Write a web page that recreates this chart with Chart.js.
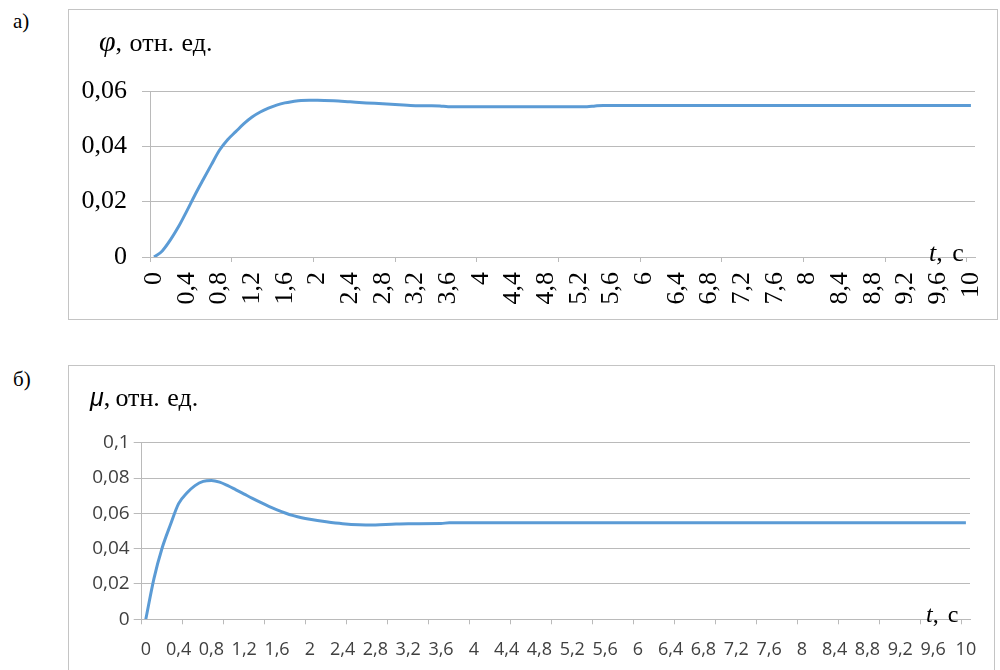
<!DOCTYPE html>
<html><head><meta charset="utf-8">
<script src="https://cdn.jsdelivr.net/npm/chart.js@4.4.1/dist/chart.umd.min.js"></script>
<style>
html,body{margin:0;padding:0;background:#fff;}
body{width:1000px;height:670px;position:relative;overflow:hidden;}
.box{position:absolute;border:1px solid #c4c4c4;box-sizing:border-box;}
.lbl{position:absolute;white-space:nowrap;line-height:1;color:#000;font-family:"Liberation Serif","Times New Roman",serif;}
canvas{position:absolute;left:0;}
</style></head><body>
<div class="lbl" style="left:13px;top:11px;font-size:21px">а)</div>
<div class="box" style="left:68px;top:9px;width:930px;height:311px"></div>
<div class="lbl" style="left:13px;top:369px;font-size:21px">б)</div>
<div class="box" style="left:68px;top:365px;width:927px;height:330px"></div>
<canvas id="c1" width="1000" height="330" style="top:0"></canvas>
<canvas id="c2" width="1000" height="330" style="top:340px"></canvas>
<div class="lbl" style="left:99px;top:26px;font-size:26px;word-spacing:1px"><i style="font-size:30px">φ</i>, отн. ед.</div>
<div class="lbl" style="left:90px;top:385px;font-size:26px;word-spacing:1px"><i style="font-family:'Liberation Sans',sans-serif;font-size:25px">μ</i>,&#8201;отн. ед.</div>
<div class="lbl" style="left:929px;top:240px;font-size:26px;word-spacing:3px"><i>t</i>, с</div>
<div class="lbl" style="left:926px;top:602px;font-size:24px;word-spacing:3px"><i>t</i>, с</div>
<script>
// ---- data ----
const tPhi = [0,0.1,0.2,0.3,0.4,0.5,0.6,0.7,0.8,0.9,1.0,1.1,1.2,1.3,1.4,1.5,1.6,1.7,1.8,1.9,2.0,
              2.2,2.4,2.6,2.8,3.0,3.2,3.4,3.5,3.6,4.0,4.5,5.0,5.3,5.4,5.5,6,7,8,9,10];
const phi  = [0,0.0022,0.0062,0.0110,0.0166,0.0224,0.0279,0.0333,0.0386,0.0424,0.0453,0.0482,0.0506,0.0524,0.0538,0.0549,0.0557,0.0562,0.0566,0.0567,0.0567,
              0.0565,0.0561,0.0557,0.0554,0.0550,0.0547,0.0547,0.0546,0.0543,0.0543,0.0543,0.0543,0.0543,0.0546,0.0548,0.0548,0.0548,0.0548,0.0548,0.0548];
const tMu = [0,0.1,0.2,0.3,0.4,0.5,0.6,0.7,0.8,0.9,1.0,1.1,1.2,1.3,1.4,1.5,1.6,1.7,1.8,1.9,2.0,
             2.2,2.4,2.6,2.8,3.0,3.2,3.6,3.7,4,5,6,7,8,9,10];
const mu  = [0,0.0232,0.0405,0.0535,0.0655,0.0715,0.0757,0.0781,0.0786,0.0777,0.0757,0.0733,0.0709,0.0685,0.0662,0.0640,0.0620,0.0602,0.0587,0.0575,0.0566,
             0.0552,0.0541,0.0535,0.0534,0.0538,0.0541,0.0542,0.0547,0.0547,0.0547,0.0547,0.0547,0.0547,0.0547,0.0547];
const xTickLabels = ['0','0,4','0,8','1,2','1,6','2','2,4','2,8','3,2','3,6','4','4,4','4,8','5,2','5,6','6',
                     '6,4','6,8','7,2','7,6','8','8,4','8,8','9,2','9,6','10'];
const xMarksTop = [-0.05,0.95,1.95,2.95,3.95,4.95,5.95,6.95,7.95,8.95,9.95];
const xMarksBottom = [-0.05,0.45,0.95,1.45,1.95,2.45,2.95,3.45,3.95,4.45,4.95,5.45,5.95,6.45,6.95,7.45,7.95,8.45,8.95,9.45,9.95];
const yTickLabelsTop = ['0','0,02','0,04','0,06'];
const yTickLabelsBottom = ['0','0,02','0,04','0,06','0,08','0,1'];

const GRID = '#bababa';
const LINE = '#5B9BD5';
const SERIF = "'Liberation Serif', 'Times New Roman', serif";
const SANS = "'Open Sans', 'Liberation Sans', sans-serif";

function makeChart(id, o) {
  new Chart(document.getElementById(id), {
    type: 'line',
    data: { datasets: [{
      data: o.t.map((t, i) => ({x: t, y: o.v[i]})),
      borderColor: LINE, borderWidth: 3, pointRadius: 0, fill: false,
      cubicInterpolationMode: 'monotone'
    }]},
    options: {
      responsive: false, animation: false, events: [],
      layout: { padding: { left: 0, right: o.padRight, top: o.padTop, bottom: 0 } },
      plugins: { legend: { display: false }, tooltip: { enabled: false } },
      scales: {
        x: {
          type: 'linear', min: -0.05, max: 10.05,
          afterBuildTicks: s => {
            const ticks = [];
            xTickLabels.forEach(l => ticks.push({value: parseFloat(l.replace(',', '.')), lab: l, mark: false}));
            o.marks.forEach(m => ticks.push({value: m, lab: '', mark: true}));
            ticks.sort((a, b) => a.value - b.value);
            s.ticks = ticks;
          },
          afterFit: s => { s.height = o.xHeight; s.paddingLeft = 0; s.paddingRight = 0; },
          ticks: {
            autoSkip: false, maxRotation: o.rot, minRotation: o.rot, padding: o.xPad,
            font: o.xFont, color: o.tickColor,
            callback: (v, i, ticks) => ticks[i].lab
          },
          grid: {
            drawOnChartArea: false, drawTicks: true, tickLength: 5, lineWidth: 1,
            tickColor: c => (c.tick && c.tick.mark) ? GRID : 'rgba(0,0,0,0)'
          },
          border: { display: true, color: GRID, width: 1 }
        },
        y: {
          min: 0, max: o.yMax,
          afterFit: s => { s.width = o.yWidth; s.paddingTop = 0; s.paddingBottom = 0; },
          ticks: { stepSize: 0.02, padding: o.yPad, font: o.yFont, color: o.tickColor,
                   callback: (v, i) => o.yLabels[i] },
          grid: { color: GRID, lineWidth: 1, drawTicks: true, tickLength: 8 },
          border: { display: true, color: GRID, width: 1 }
        }
      }
    }
  });
}

makeChart('c1', {
  t: tPhi, v: phi, marks: xMarksTop, yLabels: yTickLabelsTop, yMax: 0.06,
  padRight: 25, padTop: 91, xHeight: 73, yWidth: 150, rot: 90,
  xPad: 10, yPad: 15, tickColor: '#000',
  xFont: { family: SERIF, size: 26 }, yFont: { family: SERIF, size: 26 }
});
makeChart('c2', {
  t: tMu, v: mu, marks: xMarksBottom, yLabels: yTickLabelsBottom, yMax: 0.1,
  padRight: 30, padTop: 102.7, xHeight: 50.7, yWidth: 141.7, rot: 0,
  xPad: 15, yPad: 4, tickColor: '#404040',
  xFont: { family: SANS, size: 18 }, yFont: { family: SANS, size: 19 }
});
</script>
</body></html>
